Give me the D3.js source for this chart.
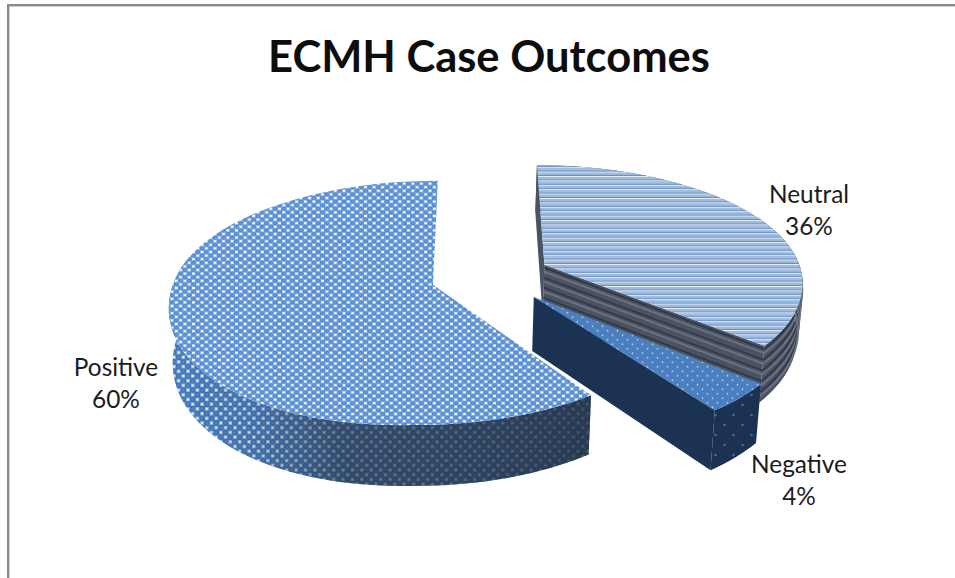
<!DOCTYPE html>
<html>
<head>
<meta charset="utf-8">
<script src="https://cdn.jsdelivr.net/npm/d3@7/dist/d3.min.js"></script>
<style>
  html, body { margin: 0; padding: 0; background: #fff; }
  svg { display: block; }
  text { font-family: Lato, "Open Sans", sans-serif; fill: #1c1c1c; }
</style>
</head>
<body>
<svg id="chart" width="955" height="578"></svg>
<script>
// Chart content
const categories = ["Positive", "Neutral", "Negative"];
const shares = [60, 36, 4];
const titleText = "ECMH Case Outcomes";

// Perspective pie geometry, in pixels unless noted
const W = 955, H = 578;
const radius = 258;
const explode = 60;
const centerX = 491, centerY = 276;
const vanishX = 450, wallVanishX = 430;
const tilt = 118 / radius;       // vertical squash of the disc
const perspective = 0.12;
const wallHeight = 53;
const firstSlice = 144 * Math.PI / 180;
const frontLean = [12, 0, 0];    // per slice: how far the near rim leans left

const svg = d3.select("#chart");
const defs = svg.append("defs");

// Sphere shading used by the two checked textures
function sphereGradient(id, stops) {
  const g = defs.append("radialGradient").attr("id", id)
    .attr("cx", "50%").attr("cy", "50%").attr("r", "50%");
  stops.forEach(([o, c]) => g.append("stop").attr("offset", o).attr("stop-color", c));
}
sphereGradient("sphereTop", [["0%", "#6fa2e0"], ["60%", "#5389cf"], ["100%", "#5f93d6"]]);
sphereGradient("sphereWall", [["0%", "#5f95d4"], ["55%", "#3f78bd"], ["100%", "#3f78bd"]]);

// Staggered spheres with white gaps between them
function checkerPattern(id, w, h, bg, gap, fill, r) {
  const p = defs.append("pattern").attr("id", id).attr("patternUnits", "userSpaceOnUse")
    .attr("width", w).attr("height", h);
  p.append("rect").attr("width", w).attr("height", h).attr("fill", bg);
  [[w / 2, 0], [w / 2, h], [0, h / 2], [w, h / 2]].forEach(([x, y]) =>
    p.append("rect").attr("x", x - 1.7).attr("y", y - 1.4).attr("width", 3.4).attr("height", 2.8).attr("fill", gap));
  [[0, 0], [w, 0], [0, h], [w, h], [w / 2, h / 2]].forEach(([x, y]) =>
    p.append("ellipse").attr("cx", x).attr("cy", y).attr("rx", r).attr("ry", r * h / w).attr("fill", fill));
}
checkerPattern("positiveTop", 8.6, 7.2, "#b4cdec", "#ffffff", "url(#sphereTop)", 2.9);
checkerPattern("positiveWall", 9.4, 9.4, "#cfd6de", "#f4f6f8", "url(#sphereWall)", 3.3);

// The outer wall darkens from left to right as it turns away from the light
const shade = defs.append("linearGradient").attr("id", "wallShade")
  .attr("gradientUnits", "userSpaceOnUse").attr("x1", 170).attr("x2", 600).attr("y1", 0).attr("y2", 0);
[[0, 0], [0.2, 0.15], [0.4, 0.6], [0.75, 0.72], [1, 0.82]].forEach(([o, a]) =>
  shade.append("stop").attr("offset", o).attr("stop-color", "#1f2a3a").attr("stop-opacity", a));

// Horizontal hairline stripes on the neutral slice
const stripes = defs.append("pattern").attr("id", "neutralTop").attr("patternUnits", "userSpaceOnUse")
  .attr("width", 8).attr("height", 4.4);
stripes.append("rect").attr("width", 8).attr("height", 4.4).attr("fill", "#a0bce0");
stripes.append("rect").attr("y", 0).attr("width", 8).attr("height", 0.9).attr("fill", "#e4edf8");
stripes.append("rect").attr("y", 3.4).attr("width", 8).attr("height", 1).attr("fill", "#6a8fc0");

// Small pale dots on the negative slice
function dotPattern(id, w, h, bg, dot, r) {
  const p = defs.append("pattern").attr("id", id).attr("patternUnits", "userSpaceOnUse")
    .attr("width", w).attr("height", h);
  p.append("rect").attr("width", w).attr("height", h).attr("fill", bg);
  [[w / 4, h / 4], [3 * w / 4, 3 * h / 4]].forEach(([x, y]) =>
    p.append("circle").attr("cx", x).attr("cy", y).attr("r", r).attr("fill", dot));
}
dotPattern("negativeTop", 10, 9, "#4a7fc0", "#a9c8ea", 0.9);
dotPattern("negativeWall", 18, 20, "#1c3253", "#47688f", 1.3);

// Frame of the chart area: only its top and left edges fall inside the view
svg.append("rect").attr("width", W).attr("height", H).attr("fill", "#fff");
svg.append("rect").attr("x", 8.2).attr("y", 5.2).attr("width", W + 20).attr("height", H + 20)
  .attr("fill", "none").attr("stroke", "#8b8b8b").attr("stroke-width", 2.4);

// Projects a point of an exploded slice onto the page.
// angle is clockwise from 12 o'clock, r is a fraction of the radius, drop is the wall depth.
function project(slice, angle, r, drop) {
  const mid = slice.mid;
  const u = r * Math.sin(angle);
  const baseX = centerX - vanishX + explode * Math.sin(mid) + radius * u;
  const z = (explode / radius) * -Math.cos(mid) - r * Math.cos(angle);
  const s = 1 / (1 - perspective * z);
  let x = vanishX + baseX * s;
  let y = centerY + radius * tilt * z * s + (drop || 0) * s;

  // Lens corrections: the far rim sits slightly lower and further right,
  // the near-left rim bulges downward, and the big slice leans left at the front.
  if (z < 0) { x -= 2.5 * z; y -= 3.5 * z; }
  else { x -= slice.lean * z; y += z * (3.5 - 9 * Math.min(u, 0)); }

  if (drop) x -= (x - wallVanishX) * 0.015 * (drop / wallHeight);
  return [x, y];
}

const line = d3.line();
const sweep = (a0, a1) => d3.range(0, 61).map(i => a0 + (a1 - a0) * i / 60);
const wallPath = (slice, a0, a1) => {
  const arc = sweep(a0, a1);
  return [...arc.map(a => project(slice, a, 1, 0)), ...arc.slice().reverse().map(a => project(slice, a, 1, wallHeight))];
};

const slices = d3.pie().value(d => d).sort(null)
  .startAngle(firstSlice).endAngle(firstSlice + 2 * Math.PI)(shares);

const paths = slices.map((d, i) => {
  const slice = { mid: (d.startAngle + d.endAngle) / 2, lean: frontLean[i] };
  const arc = sweep(d.startAngle, d.endAngle);
  return {
    slice, start: d.startAngle, end: d.endAngle,
    top: [project(slice, 0, 0, 0), ...arc.map(a => project(slice, a, 1, 0))],
    face: a => [project(slice, 0, 0, 0), project(slice, a, 1, 0), project(slice, a, 1, wallHeight), project(slice, 0, 0, wallHeight)]
  };
});
const [positive, neutral, negative] = paths;

const chart = svg.append("g");

// Neutral slice: cut faces and outer wall with bands that follow the depth
const neutralSide = chart.append("g");
[neutral.face(neutral.start), neutral.face(neutral.end), wallPath(neutral.slice, neutral.start, neutral.end)].forEach(pts =>
  neutralSide.append("path").attr("d", line(pts) + "Z").attr("fill", "#4b5363"));
d3.range(3, wallHeight - 3, 10).forEach(depth => {
  const run = [
    project(neutral.slice, 0, 0, depth), project(neutral.slice, neutral.end, 1, depth),
    ...sweep(neutral.end, neutral.start + Math.PI * 0.3).map(a => project(neutral.slice, a, 1, depth))
  ];
  neutralSide.append("path").attr("d", line(run)).attr("fill", "none")
    .attr("stroke", "#2f3746").attr("stroke-width", 1.6);
  neutralSide.append("path").attr("d", line(run.map(([x, y]) => [x, y + 4]))).attr("fill", "none")
    .attr("stroke", "#6a7280").attr("stroke-width", 2);
});
chart.append("path").attr("d", line(neutral.top) + "Z").attr("fill", "url(#neutralTop)");

// Negative slice
chart.append("path").attr("d", line(wallPath(negative.slice, negative.start, negative.end)) + "Z").attr("fill", "url(#negativeWall)");
chart.append("path").attr("d", line(negative.face(negative.end)) + "Z").attr("fill", "#1c3253");
chart.append("path").attr("d", line(negative.top) + "Z").attr("fill", "url(#negativeTop)");

// Positive slice: only the near part of its rim faces the viewer
const positiveWall = wallPath(positive.slice, positive.start, positive.start + 140 * Math.PI / 180);
chart.append("path").attr("d", line(positiveWall) + "Z").attr("fill", "url(#positiveWall)");
chart.append("path").attr("d", line(positiveWall) + "Z").attr("fill", "url(#wallShade)");
chart.append("path").attr("d", line(positive.top) + "Z").attr("fill", "url(#positiveTop)");

// Title and category labels
svg.append("text").attr("x", 489).attr("y", 72).attr("text-anchor", "middle")
  .attr("font-size", 43.5).attr("font-weight", 700).attr("style", "fill:#0d0d0d").text(titleText);

const labelAnchors = [[116, 376], [809, 203], [799, 473]];
categories.forEach((name, i) => {
  const [x, y] = labelAnchors[i];
  const label = svg.append("text").attr("text-anchor", "middle").attr("font-size", 24.4);
  label.append("tspan").attr("x", x).attr("y", y).text(name);
  label.append("tspan").attr("x", x).attr("y", y + 32).text(shares[i] + "%");
});
</script>
</body>
</html>
